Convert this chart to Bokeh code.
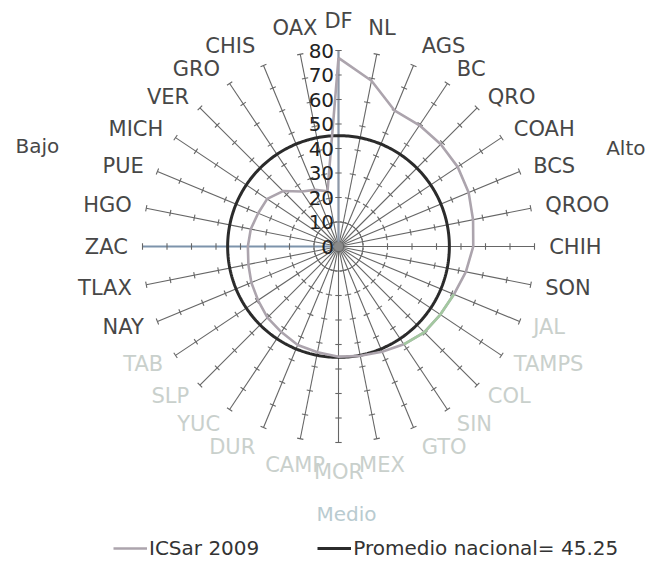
import numpy as np
from bokeh.plotting import figure
from bokeh.models import ColumnDataSource, Legend, LegendItem, Range1d, Label
from bokeh.core.properties import value
from bokeh.embed import file_html
from bokeh.resources import INLINE

# ---------------- data ----------------
states = ["DF", "NL", "AGS", "BC", "QRO", "COAH", "BCS", "QROO", "CHIH", "SON",
          "JAL", "TAMPS", "COL", "SIN", "GTO", "MEX", "MOR", "CAMP", "DUR", "YUC",
          "SLP", "TAB", "NAY", "TLAX", "ZAC", "HGO", "PUE", "MICH", "VER", "GRO",
          "CHIS", "OAX"]
icsar_2009 = [77, 69, 60, 59.5, 59, 58.5, 57.5, 56, 55, 53,
              51, 50, 49.5, 48, 46.5, 45.5, 45, 44, 43.5, 42,
              41, 39.5, 38.5, 37.5, 37, 36.5, 35.5, 35, 32, 27,
              25, 23]
nivel = ["Alto"] * 10 + ["Medio"] * 12 + ["Bajo"] * 10
promedio_nacional = 45.25
tick_values = [0, 10, 20, 30, 40, 50, 60, 70, 80]
zone_names = ["Bajo", "Alto", "Medio"]
legend_labels = ["ICSar 2009", "Promedio nacional= 45.25"]

# ---------------- styling ----------------
FONT = "DejaVu Sans"
GRAY_LINE = "#aca4ad"
GREEN_LINE = "#a3c8a0"
AVG_LINE = "#2b2b2b"
SPOKE = "#666666"
DARK_TXT = "#474747"
LIGHT_TXT = "#c9d0cc"

n = len(states)
theta = np.pi / 2 - np.arange(n) * 2 * np.pi / n
cos_t, sin_t = np.cos(theta), np.sin(theta)
rmax = tick_values[-1]

p = figure(width=648, height=562,
           x_range=Range1d(-137.96, 126.53), y_range=Range1d(-128.98, 100.41),
           x_axis_type=None, y_axis_type=None,
           output_backend="svg", toolbar_location=None, min_border=0)
p.grid.visible = False
p.outline_line_color = None
p.background_fill_color = "white"

# spokes
p.segment(x0=np.zeros(n), y0=np.zeros(n), x1=rmax * cos_t, y1=rmax * sin_t,
          line_color=SPOKE, line_width=1.1)
# highlight DF (value axis) and ZAC spokes
for idx, col, w in [(0, "#8d98a8", 2.2), (24, "#7d93ab", 1.8)]:
    p.segment(x0=[0], y0=[0], x1=[rmax * cos_t[idx]], y1=[rmax * sin_t[idx]],
              line_color=col, line_width=w)

# tick marks on every spoke
tv = np.array(tick_values[1:], dtype=float)
half = 1.3
tx0, ty0, tx1, ty1 = [], [], [], []
for c, s in zip(cos_t, sin_t):
    for r in tv:
        px, py = r * c, r * s
        tx0.append(px - half * (-s)); ty0.append(py - half * c)
        tx1.append(px + half * (-s)); ty1.append(py + half * c)
p.segment(x0=tx0, y0=ty0, x1=tx1, y1=ty1, line_color=SPOKE, line_width=1.1)

# national average circle
ang = np.linspace(0, 2 * np.pi, 361)
avg_r = np.full_like(ang, promedio_nacional)
avg_renderer = p.line(avg_r * np.cos(ang), avg_r * np.sin(ang),
                      line_color=AVG_LINE, line_width=3)

# ICSar polygon
vals = np.array(icsar_2009, dtype=float)
xs = np.append(vals * cos_t, vals[0] * cos_t[0])
ys = np.append(vals * sin_t, vals[0] * sin_t[0])
ics_renderer = p.line(xs, ys, line_color=GRAY_LINE, line_width=2.6)
# faint green tint of the scanned line around TAMPS-COL
p.line(xs[10:14], ys[10:14], line_color=GREEN_LINE, line_width=2.6)

# center blob
p.scatter(x=[0], y=[0], size=9, fill_color="#8a8a8a", line_color=None)

# value tick labels along DF axis
p.text(x=np.full(len(tick_values), -1.8), y=np.array(tick_values, dtype=float),
       text=[str(t) for t in tick_values], text_align="right",
       text_baseline="middle", text_font=value(FONT),
       text_font_size=value("20px"), text_color="#222222")

# state labels
R = 86 + 6 * np.abs(sin_t) ** 10
lx, ly = R * cos_t, R * sin_t
colors = [LIGHT_TXT if g == "Medio" else DARK_TXT for g in nivel]
for align, mask in [("left", cos_t > 0.25), ("right", cos_t < -0.25),
                    ("center", np.abs(cos_t) <= 0.25)]:
    idx = np.where(mask)[0]
    src = ColumnDataSource(dict(x=lx[idx], y=ly[idx],
                                t=[states[i] for i in idx],
                                c=[colors[i] for i in idx]))
    p.text(x="x", y="y", text="t", text_color="c", source=src,
           text_align=align, text_baseline="middle",
           text_font=value(FONT), text_font_size=value("21px"))

# zone labels (Bajo / Alto / Medio)
zone_pos = {"Bajo": (-122.9, 41.2, DARK_TXT, "center"),
            "Alto": (125.3, 40.4, DARK_TXT, "right"),
            "Medio": (3.3, -109.0, "#b9cbd0", "center")}
for z in zone_names:
    zx, zy, zc, za = zone_pos[z]
    p.add_layout(Label(x=zx, y=zy, text=z, text_align=za,
                       text_baseline="middle", text_font=FONT,
                       text_font_size="20px", text_color=zc))

legend = Legend(items=[LegendItem(label=legend_labels[0], renderers=[ics_renderer]),
                       LegendItem(label=legend_labels[1], renderers=[avg_renderer])],
                orientation="horizontal", location=(113, 2),
                glyph_width=34, glyph_height=20, label_standoff=2, spacing=58,
                padding=0, margin=0, border_line_alpha=0,
                background_fill_alpha=0, label_text_font=FONT,
                label_text_font_size="20px", label_text_color="#333333")
p.add_layout(legend)

open("out.html", "w").write(file_html(p, INLINE))
